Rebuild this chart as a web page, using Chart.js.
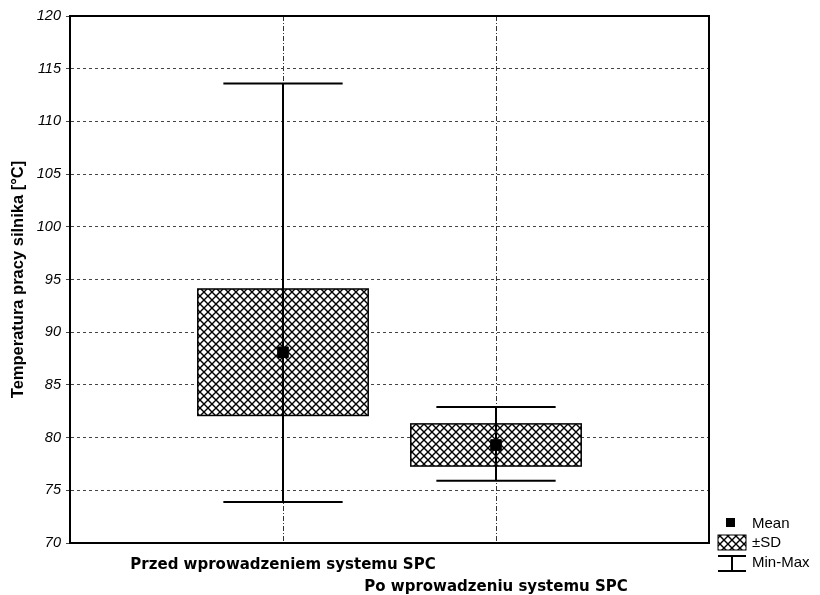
<!DOCTYPE html>
<html>
<head>
<meta charset="utf-8">
<script src="https://cdn.jsdelivr.net/npm/chart.js@4.4.0/dist/chart.umd.min.js"></script>
<style>
    html, body { margin: 0; padding: 0; background: #fff; }
    #wrap { width: 820px; height: 595px; }
</style>
</head>
<body>
<div id="wrap"><canvas id="chart" width="820" height="595"></canvas></div>
<script>
// categories and summary statistics
const categories = ["Przed wprowadzeniem systemu SPC", "Po wprowadzeniu systemu SPC"];
const positions = [1, 2];
const means = [88.1, 79.3];
const sdLow = [82.1, 77.3];
const sdHigh = [94.1, 81.3];
const minVals = [73.9, 75.9];
const maxVals = [113.6, 82.9];
const yMin = 70;
const yMax = 120;
const yStep = 5;

// crosshatch fill for the ±SD boxes
function makeHatch() {
    const c = document.createElement("canvas");
    c.width = 8;
    c.height = 8;
    const g = c.getContext("2d");
    g.fillStyle = "#fff";
    g.fillRect(0, 0, 8, 8);
    g.strokeStyle = "#000";
    g.lineWidth = 1.4;
    g.beginPath();
    g.moveTo(-1, -1); g.lineTo(9, 9);
    g.moveTo(-1, 9); g.lineTo(9, -1);
    g.stroke();
    return c;
}

const hatchCanvas = makeHatch();

// draws the boxes and whiskers through the chart scales
const boxPlugin = {
    id: "boxes",
    beforeDatasetsDraw(chart) {
        const ctx = chart.ctx;
        const x = chart.scales.x;
        const y = chart.scales.y;
        const area = chart.chartArea;
        const pattern = ctx.createPattern(hatchCanvas, "repeat");
        ctx.save();
        // frame top and right
        ctx.strokeStyle = "#000";
        ctx.lineWidth = 2;
        ctx.beginPath();
        ctx.moveTo(area.left, area.top);
        ctx.lineTo(area.right, area.top);
        ctx.lineTo(area.right, area.bottom);
        ctx.stroke();

        positions.forEach((p, i) => {
            const left = x.getPixelForValue(p - 0.4);
            const right = x.getPixelForValue(p + 0.4);
            const top = y.getPixelForValue(sdHigh[i]);
            const bottom = y.getPixelForValue(sdLow[i]);
            ctx.fillStyle = pattern;
            ctx.fillRect(left, top, right - left, bottom - top);
            ctx.strokeStyle = "#000";
            ctx.lineWidth = 1.5;
            ctx.strokeRect(left, top, right - left, bottom - top);

            const cx = x.getPixelForValue(p);
            const capL = x.getPixelForValue(p - 0.28);
            const capR = x.getPixelForValue(p + 0.28);
            const yHi = y.getPixelForValue(maxVals[i]);
            const yLo = y.getPixelForValue(minVals[i]);
            ctx.lineWidth = 2;
            ctx.beginPath();
            ctx.moveTo(cx, yHi); ctx.lineTo(cx, yLo);
            ctx.moveTo(capL, yHi); ctx.lineTo(capR, yHi);
            ctx.moveTo(capL, yLo); ctx.lineTo(capR, yLo);
            ctx.stroke();
        });
        ctx.restore();
    },
    afterDraw(chart) {
        // legend at the bottom right
        const ctx = chart.ctx;
        ctx.save();
        ctx.fillStyle = "#000";
        ctx.font = "15px 'Liberation Sans', Arial, sans-serif";
        ctx.textBaseline = "middle";
        ctx.fillRect(726, 518, 9, 9);
        ctx.fillText("Mean", 752, 524);
        const pattern = ctx.createPattern(hatchCanvas, "repeat");
        ctx.fillStyle = pattern;
        ctx.fillRect(718, 535, 28, 15);
        ctx.strokeStyle = "#000";
        ctx.lineWidth = 1;
        ctx.strokeRect(718, 535, 28, 15);
        ctx.fillStyle = "#000";
        ctx.fillText("±SD", 752, 543);
        ctx.lineWidth = 2;
        ctx.beginPath();
        ctx.moveTo(718, 556); ctx.lineTo(746, 556);
        ctx.moveTo(732, 556); ctx.lineTo(732, 571);
        ctx.moveTo(718, 571); ctx.lineTo(746, 571);
        ctx.stroke();
        ctx.fillText("Min-Max", 752, 563);
        ctx.restore();
    }
};

const ctx = document.getElementById("chart").getContext("2d");

const chart = new Chart(ctx, {
    type: "scatter",
    data: {
        datasets: [
            {
                label: "Mean",
                data: positions.map((p, i) => ({ x: p, y: means[i] })),
                backgroundColor: "#000",
                borderColor: "#000",
                pointStyle: "rect",
                pointRadius: 7.5,
                pointHoverRadius: 7.5,
            },
        ],
    },
    options: {
        responsive: false,
        animation: false,
        layout: {
            padding: { left: 0, right: 111, top: 16, bottom: 0 },
        },
        scales: {
            x: {
                type: "linear",
                min: 0,
                max: 3,
                afterBuildTicks: (scale) => {
                    scale.ticks = [0, 1, 2, 3].map((v) => ({ value: v }));
                },
                afterFit: (scale) => {
                    scale.height = 52;
                },
                border: { color: "#000", width: 2, dash: [5, 2, 1, 2] },
                grid: {
                    color: (c) => (c.tick && (c.tick.value === 1 || c.tick.value === 2) ? "#333" : "transparent"),
                    lineWidth: 1,
                    tickLength: 0,
                    drawTicks: false,
                },
                ticks: {
                    autoSkip: false,
                    maxRotation: 0,
                    padding: 11,
                    color: "#000",
                    font: { family: "'DejaVu Sans', Verdana, sans-serif", size: 15, weight: "bold", lineHeight: 1.45 },
                    callback: (v) => {
                        if (v === 1) return categories[0];
                        if (v === 2) return ["", categories[1]];
                        return "";
                    },
                },
            },
            y: {
                min: yMin,
                max: yMax,
                afterFit: (scale) => {
                    scale.width = 70;
                },
                border: { color: "#000", width: 2, dash: [3, 3] },
                grid: {
                    color: "#444",
                    lineWidth: 1,
                    tickLength: 4,
                },
                ticks: {
                    stepSize: yStep,
                    color: "#000",
                    padding: 5,
                    font: { family: "'Liberation Sans', Arial, sans-serif", size: 14.5, style: "italic" },
                },
                title: {
                    display: true,
                    text: "Temperatura pracy silnika [°C]",
                    color: "#000",
                    padding: { top: 9, bottom: 0 },
                    font: { family: "'Liberation Sans', Arial, sans-serif", size: 16.5, weight: "bold" },
                },
            },
        },
        plugins: {
            legend: { display: false },
            tooltip: { enabled: false },
        },
    },
    plugins: [boxPlugin],
});
</script>
</body>
</html>
